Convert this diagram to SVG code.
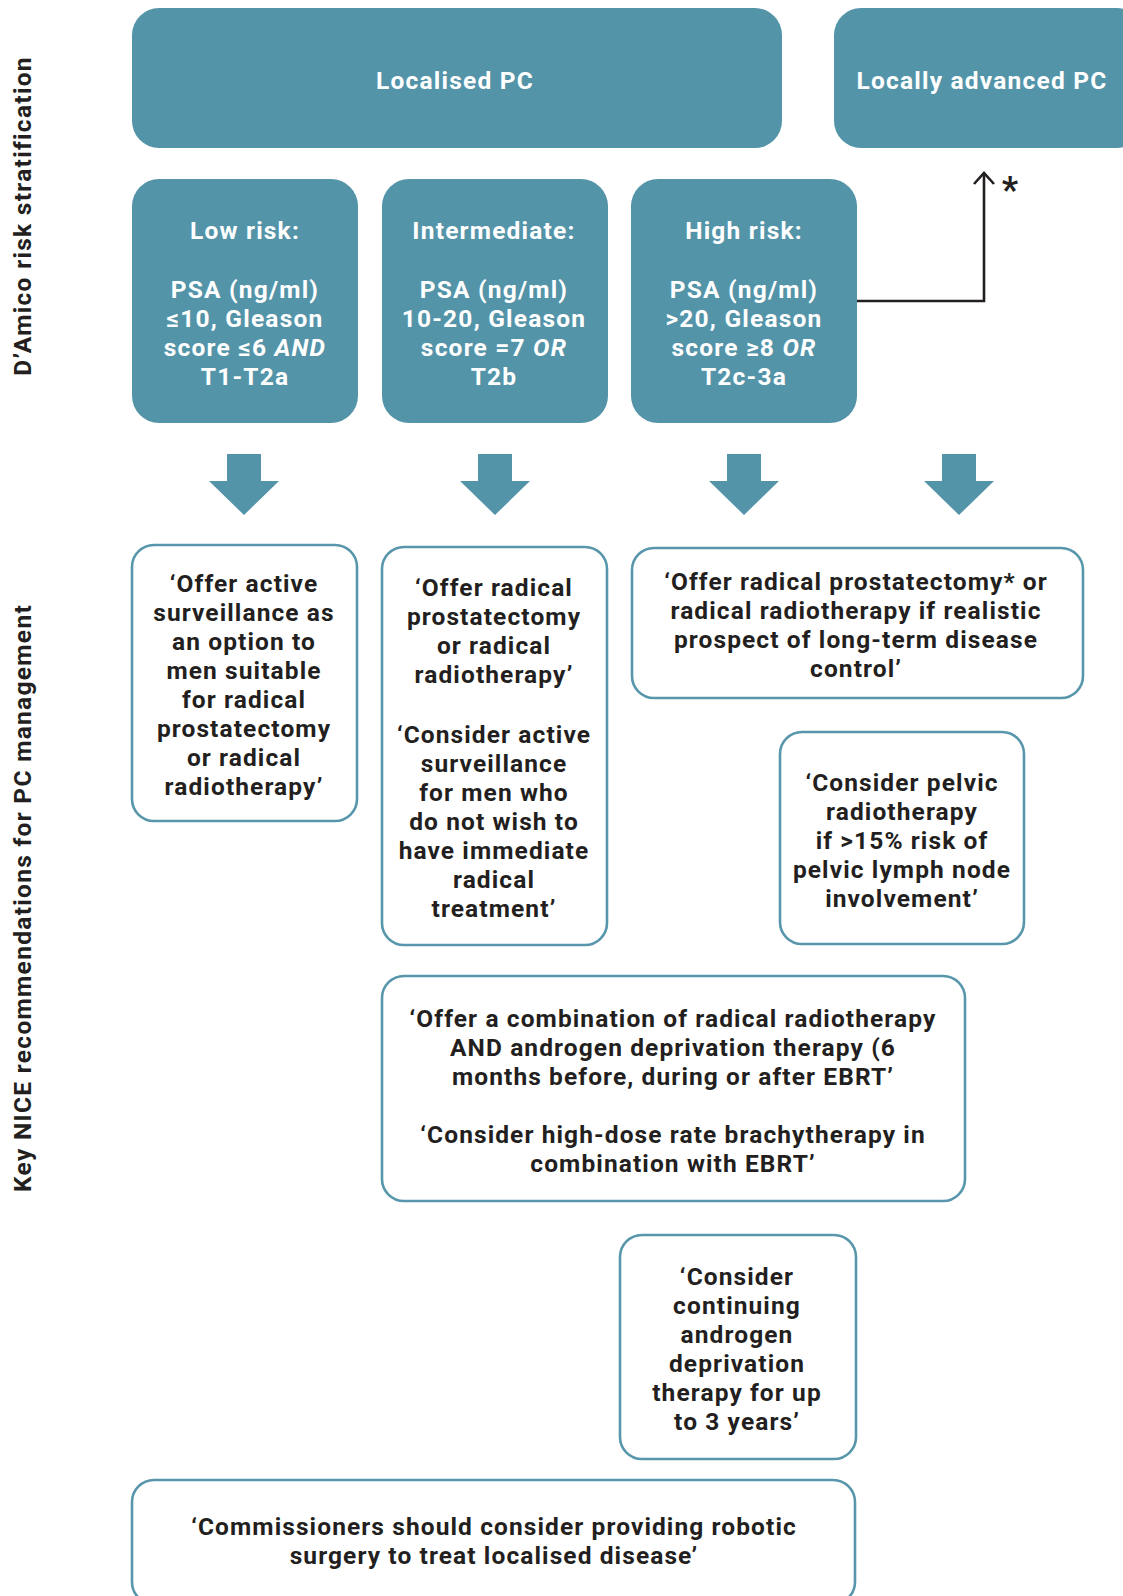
<svg xmlns="http://www.w3.org/2000/svg" width="1123" height="1596" viewBox="0 0 1123 1596">
<style>
.fill{fill:#5494a9;stroke:none}
.out{fill:#ffffff;stroke:#5896ab;stroke-width:2.6}
.wt{font-family:Roboto,"Liberation Sans",sans-serif;font-weight:700;font-size:24.5px;letter-spacing:1.2px;fill:#ffffff;text-anchor:middle}
.bt{font-family:Roboto,"Liberation Sans",sans-serif;font-weight:700;font-size:24.5px;letter-spacing:1.1px;fill:#231f20;text-anchor:middle}
.side{font-family:Roboto,"Liberation Sans",sans-serif;font-weight:700;font-size:24.5px;letter-spacing:1.3px;fill:#231f20;text-anchor:middle}
.barrow{fill:#5494a9}
.conn{fill:none;stroke:#231f20;stroke-width:2.6}
</style>
<rect width="1123" height="1596" fill="#ffffff"/>
<g id="label-damico"><text class="side" transform="translate(31,216) rotate(-90)">D’Amico risk stratification</text></g>
<g id="label-nice"><text class="side" transform="translate(31,898) rotate(-90)">Key NICE recommendations for PC management</text></g>

<g id="localised"><rect class="fill" x="132" y="8" width="650" height="140" rx="27"/><text class="wt" x="455" y="89">Localised PC</text></g>
<g id="locally-advanced"><rect class="fill" x="834" y="8" width="310" height="140" rx="27"/><text class="wt" x="982" y="89">Locally advanced PC</text></g>

<g id="low-risk"><rect class="fill" x="132" y="179" width="226" height="244" rx="27"/>
<text class="wt"><tspan x="245" y="239">Low risk:</tspan><tspan x="245" y="298">PSA (ng/ml)</tspan><tspan x="245" y="327">≤10, Gleason</tspan><tspan x="245" y="356">score ≤6 <tspan font-style="italic">AND</tspan></tspan><tspan x="245" y="385">T1-T2a</tspan></text></g>

<g id="intermediate"><rect class="fill" x="382" y="179" width="226" height="244" rx="27"/>
<text class="wt"><tspan x="494" y="239">Intermediate:</tspan><tspan x="494" y="298">PSA (ng/ml)</tspan><tspan x="494" y="327">10-20, Gleason</tspan><tspan x="494" y="356">score =7 <tspan font-style="italic">OR</tspan></tspan><tspan x="494" y="385">T2b</tspan></text></g>

<g id="high-risk"><rect class="fill" x="631" y="179" width="226" height="244" rx="27"/>
<text class="wt"><tspan x="744" y="239">High risk:</tspan><tspan x="744" y="298">PSA (ng/ml)</tspan><tspan x="744" y="327">&gt;20, Gleason</tspan><tspan x="744" y="356">score ≥8 <tspan font-style="italic">OR</tspan></tspan><tspan x="744" y="385">T2c-3a</tspan></text></g>

<g id="connectors">
<path class="conn" d="M857,301 H984 V173"/>
<path class="conn" d="M974,184 L984,173 L994,184"/>
<text x="1010" y="202" font-family="Roboto, Liberation Sans, sans-serif" font-weight="700" font-size="36" fill="#231f20" text-anchor="middle">*</text>
<polygon class="barrow" points="227,454 261,454 261,481 279,481 244,515 209,481 227,481"/>
<polygon class="barrow" points="478,454 512,454 512,481 530,481 495,515 460,481 478,481"/>
<polygon class="barrow" points="727,454 761,454 761,481 779,481 744,515 709,481 727,481"/>
<polygon class="barrow" points="942,454 976,454 976,481 994,481 959,515 924,481 942,481"/>
</g>

<g id="rec-low"><rect class="out" x="132" y="545" width="225" height="276" rx="22"/>
<text class="bt"><tspan x="244" y="592">‘Offer active</tspan><tspan x="244" y="621">surveillance as</tspan><tspan x="244" y="650">an option to</tspan><tspan x="244" y="679">men suitable</tspan><tspan x="244" y="708">for radical</tspan><tspan x="244" y="737">prostatectomy</tspan><tspan x="244" y="766">or radical</tspan><tspan x="244" y="795">radiotherapy’</tspan></text></g>

<g id="rec-intermediate"><rect class="out" x="382" y="547" width="225" height="398" rx="22"/>
<text class="bt"><tspan x="494" y="596">‘Offer radical</tspan><tspan x="494" y="625">prostatectomy</tspan><tspan x="494" y="654">or radical</tspan><tspan x="494" y="683">radiotherapy’</tspan><tspan x="494" y="743">‘Consider active</tspan><tspan x="494" y="772">surveillance</tspan><tspan x="494" y="801">for men who</tspan><tspan x="494" y="830">do not wish to</tspan><tspan x="494" y="859">have immediate</tspan><tspan x="494" y="888">radical</tspan><tspan x="494" y="917">treatment’</tspan></text></g>

<g id="rec-high"><rect class="out" x="632" y="548" width="451" height="150" rx="22"/>
<text class="bt"><tspan x="856" y="590">‘Offer radical prostatectomy* or</tspan><tspan x="856" y="619">radical radiotherapy if realistic</tspan><tspan x="856" y="648">prospect of long-term disease</tspan><tspan x="856" y="677">control’</tspan></text></g>

<g id="rec-pelvic"><rect class="out" x="780" y="732" width="244" height="212" rx="22"/>
<text class="bt"><tspan x="902" y="791">‘Consider pelvic</tspan><tspan x="902" y="820">radiotherapy</tspan><tspan x="902" y="849">if &gt;15% risk of</tspan><tspan x="902" y="878">pelvic lymph node</tspan><tspan x="902" y="907">involvement’</tspan></text></g>

<g id="rec-combination"><rect class="out" x="382" y="976" width="583" height="225" rx="22"/>
<text class="bt"><tspan x="673" y="1027">‘Offer a combination of radical radiotherapy</tspan><tspan x="673" y="1056">AND androgen deprivation therapy (6</tspan><tspan x="673" y="1085">months before, during or after EBRT’</tspan><tspan x="673" y="1143">‘Consider high-dose rate brachytherapy in</tspan><tspan x="673" y="1172">combination with EBRT’</tspan></text></g>

<g id="rec-adt"><rect class="out" x="620" y="1235" width="236" height="224" rx="22"/>
<text class="bt"><tspan x="737" y="1285">‘Consider</tspan><tspan x="737" y="1314">continuing</tspan><tspan x="737" y="1343">androgen</tspan><tspan x="737" y="1372">deprivation</tspan><tspan x="737" y="1401">therapy for up</tspan><tspan x="737" y="1430">to 3 years’</tspan></text></g>

<g id="rec-robotic"><rect class="out" x="132" y="1480" width="723" height="124" rx="22"/>
<text class="bt"><tspan x="494" y="1535">‘Commissioners should consider providing robotic</tspan><tspan x="494" y="1564">surgery to treat localised disease’</tspan></text></g>
</svg>
